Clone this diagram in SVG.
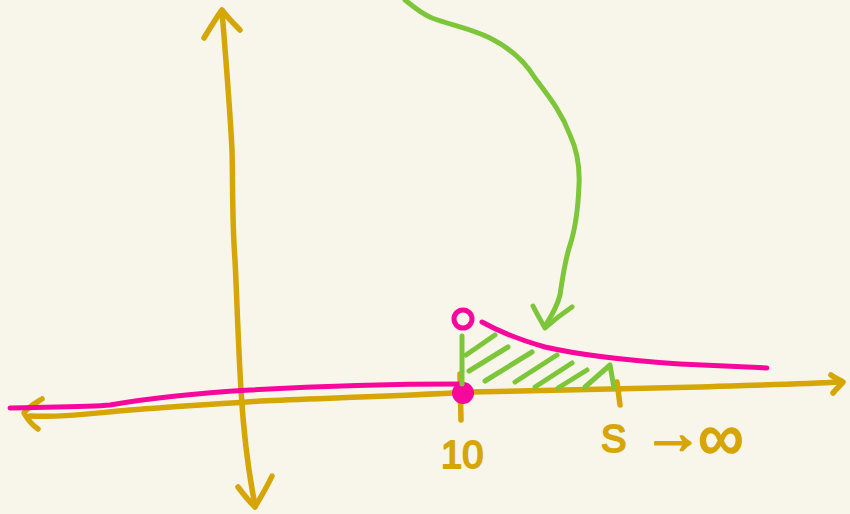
<svg xmlns="http://www.w3.org/2000/svg" width="850" height="514" viewBox="0 0 850 514">
<style>
.g{fill:none;stroke:#D6A506;stroke-width:5.5;stroke-linecap:round;stroke-linejoin:round}
.p{fill:none;stroke:#F7079B;stroke-width:5;stroke-linecap:round;stroke-linejoin:round}
.v{fill:none;stroke:#7DC63A;stroke-width:5;stroke-linecap:round;stroke-linejoin:round}
.t{fill:#D6A506;stroke:#D6A506;stroke-width:2;stroke-linejoin:round;font-family:"Liberation Sans",sans-serif}
</style>
<rect width="850" height="514" fill="#F8F6EB"/>
<g id="y-axis">
<path class="g" d="M222,11 C226,60 230,110 232,150 C233,190 232,220 235,260 C237,300 238,340 241,390 C244,440 250,480 255,505"/>
<path class="g" d="M204,38 C210,28 216,18 222,10 C228,18 234,24 240,30"/>
<path class="g" d="M238,487 C244,495 250,502 255,507 C262,495 268,485 272,476"/>
</g>
<g id="x-axis">
<path class="g" d="M30,416 C70,418 100,412 130,410 C180,406 220,404 260,401 C330,398 400,396 470,392 C560,390 640,389 700,387 C760,385 800,384 840,382"/>
<path class="g" d="M42,399 C34,404 27,408 24,413 C28,420 32,425 38,429"/>
<path class="g" d="M831,375 C835,378 840,380 843,382 C840,386 836,389 833,393"/>
<path class="g" d="M460,374 L461,420"/>
<path class="g" d="M617,382 L620,405"/>
</g>
<g id="pink-line">
<path class="p" d="M10,408 C50,407 90,407 110,405 C150,398 200,393 250,390 C320,386 380,384 460,384"/>
<circle cx="463" cy="393" r="11" fill="#F7079B"/>
</g>
<g id="pink-curve">
<circle class="p" cx="463" cy="319" r="9"/>
<path class="p" d="M482,322 C500,332 520,340 545,347 C580,355 620,360 680,364 C720,366 745,367 767,368"/>
</g>
<g id="green-region">
<path class="v" d="M462,336 L462,384"/>
<path class="v" d="M466,355 L495,335"/>
<path class="v" d="M469,371 L508,347"/>
<path class="v" d="M485,381 L532,352"/>
<path class="v" d="M515,382 L557,355"/>
<path class="v" d="M535,387 L572,363"/>
<path class="v" d="M558,388 L587,370"/>
<path class="v" d="M585,387 L610,365 L614,388"/>
</g>
<g id="green-arrow">
<path class="v" d="M405,0 C415,8 422,14 432,18 C450,25 470,28 490,38 C510,48 525,62 535,78 C550,98 562,113 570,135 C577,150 580,165 579,185 C578,210 575,230 570,245 C565,260 563,275 560,295 C556,310 550,318 545,326"/>
<path class="v" d="M533,306 C537,314 541,321 545,328 C554,320 563,313 572,307"/>
</g>
<g id="labels">
<text class="t" x="441" y="468" font-size="38">10</text>
<text class="t" x="601" y="452" font-size="38">S</text>
<text class="t" x="643" y="453" font-size="60">→</text>
<text class="t" x="698" y="459" font-size="64">∞</text>
</g>
</svg>
